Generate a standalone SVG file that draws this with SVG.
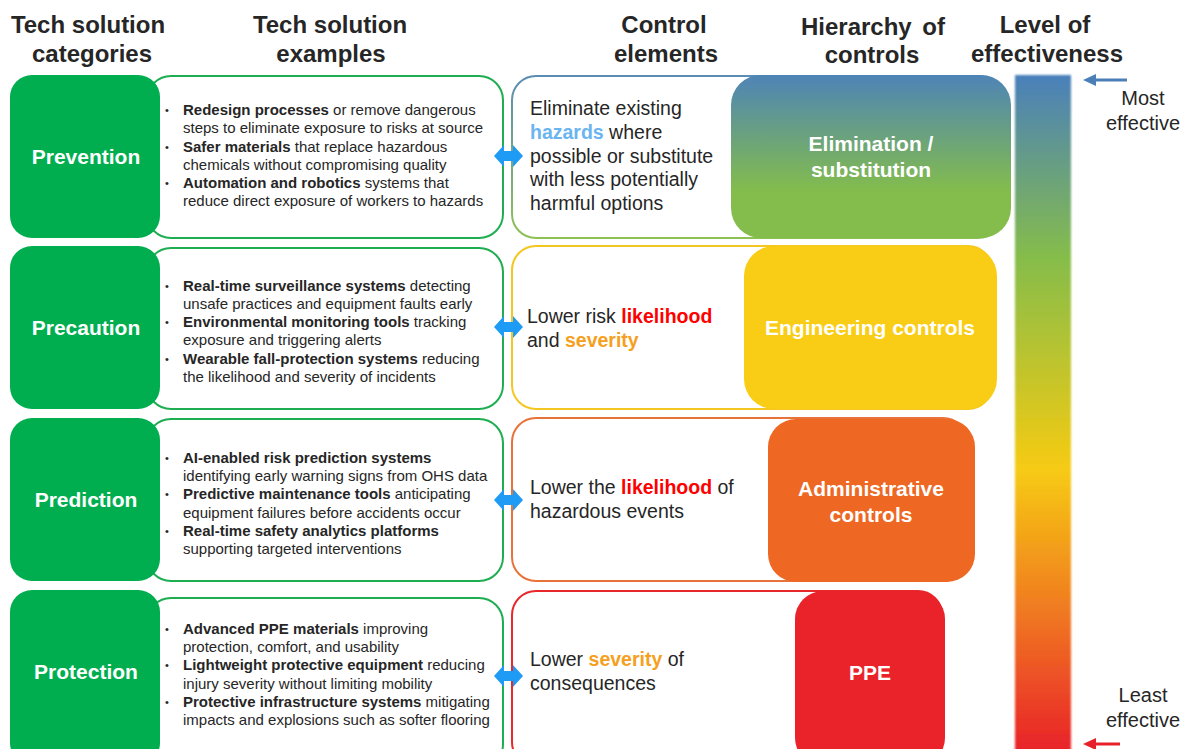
<svg xmlns="http://www.w3.org/2000/svg" width="1191" height="749" viewBox="0 0 1191 749">
<defs>
<linearGradient id="gElim" x1="0" y1="0" x2="0" y2="1">
<stop offset="0" stop-color="#4e84b6"/>
<stop offset="0.72" stop-color="#84bd4b"/>
<stop offset="1" stop-color="#84bd4b"/>
</linearGradient>
<linearGradient id="gElimStroke" x1="0" y1="0" x2="0" y2="1">
<stop offset="0" stop-color="#5b8db5"/>
<stop offset="1" stop-color="#8dc153"/>
</linearGradient>
<linearGradient id="gLevel" x1="0" y1="0" x2="0" y2="1">
<stop offset="0" stop-color="#4a80bb"/>
<stop offset="0.27" stop-color="#86bd4a"/>
<stop offset="0.58" stop-color="#f6cb12"/>
<stop offset="0.8" stop-color="#f07522"/>
<stop offset="1" stop-color="#e8202a"/>
</linearGradient>
<filter id="soft" x="-10%" y="-2%" width="120%" height="104%">
<feGaussianBlur stdDeviation="0.8"/>
</filter>
</defs>
<style>
.hdr{font-family:"Liberation Sans",Arial,sans-serif;font-weight:bold;font-size:24px;fill:#262626;text-anchor:middle}
.cat rect{fill:#00ae4f}
.cat text{font-family:"Liberation Sans",Arial,sans-serif;font-weight:bold;font-size:21px;fill:#ffffff;text-anchor:middle}
.ex rect{fill:#ffffff;stroke:#1fad52;stroke-width:2}
.ex text{font-family:"Liberation Sans",Arial,sans-serif;font-size:15px;fill:#262626}
.ex text.bul{font-size:11px}
.b{font-weight:bold}
.ctl rect{fill:#ffffff;stroke-width:2}
.ctl text{font-family:"Liberation Sans",Arial,sans-serif;font-size:19.5px;fill:#262626}
.hz{fill:#6cb4f0;font-weight:bold}
.lk{fill:#ff0000;font-weight:bold}
.sv{fill:#f5a020;font-weight:bold}
.hc text{font-family:"Liberation Sans",Arial,sans-serif;font-weight:bold;font-size:21px;fill:#ffffff;text-anchor:middle}
.eff{font-family:"Liberation Sans",Arial,sans-serif;font-size:20px;fill:#262626;text-anchor:middle}
.dbl{fill:#1e9bf5}
</style>
<rect width="1191" height="749" fill="#ffffff"/>

<g id="headers">
<text class="hdr" x="88" y="33">Tech solution</text>
<text class="hdr" x="92" y="62">categories</text>
<text class="hdr" x="330" y="33">Tech solution</text>
<text class="hdr" x="331" y="62">examples</text>
<text class="hdr" x="664" y="33">Control</text>
<text class="hdr" x="666" y="62">elements</text>
<text class="hdr" x="873" y="35" word-spacing="4">Hierarchy of</text>
<text class="hdr" x="872" y="63">controls</text>
<text class="hdr" x="1045" y="33">Level of</text>
<text class="hdr" x="1047" y="62">effectiveness</text>
</g>

<!-- Row 1 -->
<g id="ex-prevention" class="ex">
<rect x="147" y="76" width="356" height="162" rx="24"/>
<text class="bul" x="165" y="114">•</text><text x="183" y="115"><tspan class="b">Redesign processes</tspan> or remove dangerous</text>
<text x="183" y="133">steps to eliminate exposure to risks at source</text>
<text class="bul" x="165" y="151">•</text><text x="183" y="152"><tspan class="b">Safer materials</tspan> that replace hazardous</text>
<text x="183" y="170">chemicals without compromising quality</text>
<text class="bul" x="165" y="187">•</text><text x="183" y="188"><tspan class="b">Automation and robotics</tspan> systems that</text>
<text x="183" y="206">reduce direct exposure of workers to hazards</text>
</g>
<g id="cat-prevention" class="cat">
<rect x="10" y="75" width="150" height="163" rx="22"/>
<text x="86" y="164">Prevention</text>
</g>
<g id="ctl-elimination" class="ctl">
<rect x="512" y="76" width="490" height="162" rx="24" stroke="url(#gElimStroke)"/>
<text x="530" y="115">Eliminate existing</text>
<text x="530" y="139"><tspan class="hz">hazards</tspan> where</text>
<text x="530" y="163">possible or substitute</text>
<text x="530" y="186">with less potentially</text>
<text x="530" y="210">harmful options</text>
</g>
<g id="hc-elimination" class="hc">
<rect x="731" y="75" width="280" height="163" rx="30" fill="url(#gElim)"/>
<text x="871" y="151">Elimination /</text>
<text x="871" y="177">substitution</text>
</g>

<!-- Row 2 -->
<g id="ex-precaution" class="ex">
<rect x="147" y="248" width="356" height="161" rx="24"/>
<text class="bul" x="165" y="290">•</text><text x="183" y="291"><tspan class="b">Real-time surveillance systems</tspan> detecting</text>
<text x="183" y="309">unsafe practices and equipment faults early</text>
<text class="bul" x="165" y="326">•</text><text x="183" y="327"><tspan class="b">Environmental monitoring tools</tspan> tracking</text>
<text x="183" y="345">exposure and triggering alerts</text>
<text class="bul" x="165" y="363">•</text><text x="183" y="364"><tspan class="b">Wearable fall-protection systems</tspan> reducing</text>
<text x="183" y="382">the likelihood and severity of incidents</text>
</g>
<g id="cat-precaution" class="cat">
<rect x="10" y="246" width="150" height="163" rx="22"/>
<text x="86" y="335">Precaution</text>
</g>
<g id="ctl-engineering" class="ctl">
<rect x="512" y="246" width="480" height="163" rx="24" stroke="#f3c622"/>
<text x="527" y="323">Lower risk <tspan class="lk">likelihood</tspan></text>
<text x="527" y="347">and <tspan class="sv">severity</tspan></text>
</g>
<g id="hc-engineering" class="hc">
<rect x="744" y="246" width="253" height="163" rx="30" fill="#f9cd15"/>
<text x="870" y="335">Engineering controls</text>
</g>

<!-- Row 3 -->
<g id="ex-prediction" class="ex">
<rect x="147" y="419" width="356" height="162" rx="24"/>
<text class="bul" x="165" y="462">•</text><text x="183" y="463"><tspan class="b">AI-enabled risk prediction systems</tspan></text>
<text x="183" y="481">identifying early warning signs from OHS data</text>
<text class="bul" x="165" y="498">•</text><text x="183" y="499"><tspan class="b">Predictive maintenance tools</tspan> anticipating</text>
<text x="183" y="518">equipment failures before accidents occur</text>
<text class="bul" x="165" y="535">•</text><text x="183" y="536"><tspan class="b">Real-time safety analytics platforms</tspan></text>
<text x="183" y="554">supporting targeted interventions</text>
</g>
<g id="cat-prediction" class="cat">
<rect x="10" y="418" width="150" height="163" rx="22"/>
<text x="86" y="507">Prediction</text>
</g>
<g id="ctl-administrative" class="ctl">
<rect x="512" y="418" width="455" height="163" rx="24" stroke="#e8733a"/>
<text x="530" y="494">Lower the <tspan class="lk">likelihood</tspan> of</text>
<text x="530" y="518">hazardous events</text>
</g>
<g id="hc-administrative" class="hc">
<rect x="768" y="419" width="207" height="163" rx="28" fill="#ee6723"/>
<text x="871" y="496">Administrative</text>
<text x="871" y="522">controls</text>
</g>

<!-- Row 4 -->
<g id="ex-protection" class="ex">
<rect x="147" y="598" width="356" height="170" rx="24"/>
<text class="bul" x="165" y="633">•</text><text x="183" y="634"><tspan class="b">Advanced PPE materials</tspan> improving</text>
<text x="183" y="652">protection, comfort, and usability</text>
<text class="bul" x="165" y="669">•</text><text x="183" y="670"><tspan class="b">Lightweight protective equipment</tspan> reducing</text>
<text x="183" y="689">injury severity without limiting mobility</text>
<text class="bul" x="165" y="706">•</text><text x="183" y="707"><tspan class="b">Protective infrastructure systems</tspan> mitigating</text>
<text x="183" y="725">impacts and explosions such as softer flooring</text>
</g>
<g id="cat-protection" class="cat">
<rect x="10" y="590" width="150" height="175" rx="22"/>
<text x="86" y="679">Protection</text>
</g>
<g id="ctl-ppe" class="ctl">
<rect x="512" y="591" width="430" height="175" rx="24" stroke="#e8282c"/>
<text x="530" y="666">Lower <tspan class="sv">severity</tspan> of</text>
<text x="530" y="690">consequences</text>
</g>
<g id="hc-ppe" class="hc">
<rect x="795" y="591" width="150" height="175" rx="28" fill="#ea2229"/>
<text x="870" y="680">PPE</text>
</g>

<!-- Level of effectiveness bar -->
<g id="level-bar">
<rect x="1015" y="75" width="56" height="680" fill="url(#gLevel)" filter="url(#soft)"/>
<text class="eff" x="1143" y="105">Most</text>
<text class="eff" x="1143" y="130">effective</text>
<text class="eff" x="1143" y="702">Least</text>
<text class="eff" x="1143" y="727">effective</text>
</g>

<g id="connectors">
<polygon class="dbl" points="494,156 504,145 504,151 513,151 513,145 523,156 513,167 513,161 504,161 504,167"/>
<polygon class="dbl" points="494,327 504,316 504,322 513,322 513,316 523,327 513,338 513,332 504,332 504,338"/>
<polygon class="dbl" points="494,500 504,489 504,495 513,495 513,489 523,500 513,511 513,505 504,505 504,511"/>
<polygon class="dbl" points="494,676 504,665 504,671 513,671 513,665 523,676 513,687 513,681 504,681 504,687"/>
<line x1="1127" y1="80" x2="1094" y2="80" stroke="#4a7fb8" stroke-width="3"/>
<polygon points="1083,80 1096,74 1096,86" fill="#4a7fb8"/>
<line x1="1120" y1="744" x2="1094" y2="744" stroke="#e8202a" stroke-width="3"/>
<polygon points="1083,744 1096,738 1096,750" fill="#e8202a"/>
</g>
</svg>
